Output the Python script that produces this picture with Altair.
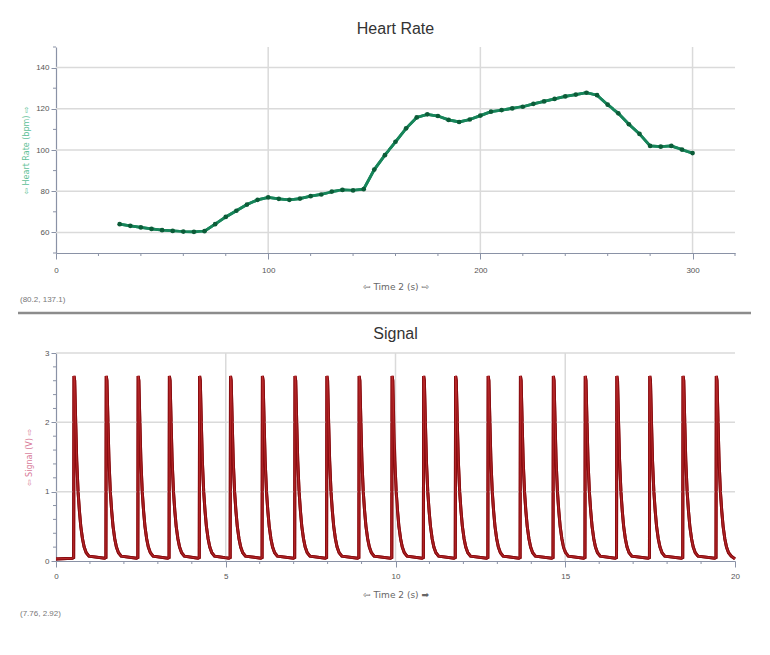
import altair as alt
import pandas as pd

# ---------------- data ----------------
hr_time = [30, 35, 40, 45, 50, 55, 60, 65, 70, 75, 80, 85, 90, 95, 100, 105, 110,
           115, 120, 125, 130, 135, 140, 145, 150, 155, 160, 165, 170, 175, 180,
           185, 190, 195, 200, 205, 210, 215, 220, 225, 230, 235, 240, 245, 250,
           255, 260, 265, 270, 275, 280, 285, 290, 295, 300]
hr_bpm = [64.0, 63.2, 62.4, 61.7, 61.1, 60.7, 60.4, 60.3, 60.6, 64.0, 67.5, 70.5,
          73.5, 75.8, 77.0, 76.3, 75.8, 76.4, 77.6, 78.4, 79.8, 80.6, 80.4, 81.0,
          90.5, 97.5, 104.0, 110.5, 115.8, 117.3, 116.5, 114.6, 113.6, 114.8,
          116.7, 118.6, 119.4, 120.2, 121.0, 122.4, 123.6, 124.8, 126.0, 126.9,
          127.8, 126.6, 122.0, 117.8, 112.5, 107.8, 102.0, 101.6, 102.0, 100.2, 98.5]

# signal: time of each spike and the shape of one spike (offset s, volts)
peak_times = [0.53, 1.48, 2.42, 3.34, 4.23, 5.14, 6.08, 7.04, 7.98, 8.93, 9.90,
              10.83, 11.77, 12.73, 13.68, 14.65, 15.59, 16.52, 17.49, 18.47, 19.45]
pulse_offsets = [-0.05, -0.01, 0.0, 0.02, 0.05, 0.08, 0.12, 0.16, 0.20, 0.25, 0.30, 0.36, 0.44]
pulse_values = [0.04, 0.05, 2.67, 2.60, 2.00, 1.45, 1.00, 0.72, 0.50, 0.32, 0.20, 0.12, 0.07]
signal_start = [0.0, 0.03]
signal_end = [20.0, 0.03]

# axis ticks (labelled majors, unlabelled minors)
hr_x_major = [0, 100, 200, 300]
hr_x_minor = [20, 40, 60, 80, 120, 140, 160, 180, 220, 240, 260, 280, 320]
hr_y_major = [60, 80, 100, 120, 140]
hr_y_minor = [50, 70, 90, 110, 130, 150]
sig_x_major = [0, 5, 10, 15, 20]
sig_x_minor = [1, 2, 3, 4, 6, 7, 8, 9, 11, 12, 13, 14, 16, 17, 18, 19]
sig_y_major = [0, 1, 2, 3]
sig_y_minor = [0.2, 0.4, 0.6, 0.8, 1.2, 1.4, 1.6, 1.8, 2.2, 2.4, 2.6, 2.8]

# major grid positions
hr_grid_y = [60, 80, 100, 120, 140]
hr_grid_x = [100, 200, 300]
sig_grid_y = [1, 2, 3]
sig_grid_x = [5, 10, 15]

hr_readout = "(80.2, 137.1)"
sig_readout = "(7.76, 2.92)"

# ---------------- tables ----------------
hr_df = pd.DataFrame({"t": hr_time, "hr": hr_bpm})
rows = [tuple(signal_start)]
for p in peak_times:
    for o, v in zip(pulse_offsets, pulse_values):
        rows.append((round(p + o, 3), v))
rows.append(tuple(signal_end))
sig_df = pd.DataFrame(rows, columns=["t", "v"])

W = 679
H1 = 206
H2 = 208

axis_col = "#8a92a6"
grid_col = "#dadada"
lab_col = "#555555"
FONT = "Liberation Sans, Arial, sans-serif"


def minor_x(vals, h):
    return alt.Chart(pd.DataFrame({"t": vals})).mark_rule(
        color=axis_col, strokeWidth=1).encode(
        x="t:Q", y=alt.value(h), y2=alt.value(h + 3))


def minor_y(vals, field):
    return alt.Chart(pd.DataFrame({field: vals})).mark_rule(
        color=axis_col, strokeWidth=1).encode(
        y=f"{field}:Q", x=alt.value(-3), x2=alt.value(0))


def grid_x(vals):
    return alt.Chart(pd.DataFrame({"t": vals})).mark_rule(
        color=grid_col, strokeWidth=1.5).encode(x="t:Q")


def grid_y(vals, field):
    return alt.Chart(pd.DataFrame({field: vals})).mark_rule(
        color=grid_col, strokeWidth=1.5).encode(y=f"{field}:Q")


def readout(text, yy):
    return alt.Chart(pd.DataFrame({"s": [text]})).mark_text(
        align="left", baseline="middle", fontSize=8, color="#777777", font=FONT).encode(
        text="s:N", x=alt.value(-36), y=alt.value(yy))


# ---------------- heart rate panel ----------------
hx = alt.X("t:Q", scale=alt.Scale(domain=[0, 320], nice=False, zero=False),
           axis=alt.Axis(values=hr_x_major, grid=False, tickSize=6,
                         labelFlush=False, labelOverlap=False,
                         title="⇦        Time 2 (s)        ⇨",
                         titleColor="#666666", titleFontSize=9, titlePadding=8,
                         labelPadding=7))
hy = alt.Y("hr:Q", scale=alt.Scale(domain=[50, 150], nice=False, zero=False),
           axis=alt.Axis(values=hr_y_major, grid=False, tickSize=5,
                         labelFlush=False, labelOverlap=False,
                         title="⇦      Heart Rate (bpm)      ⇨",
                         titleColor="#5fbf98", titleFontSize=8, titlePadding=5))

hr_base = alt.Chart(hr_df)
hr_line = hr_base.mark_line(color="#17855a", strokeWidth=2.8).encode(x=hx, y=hy)
hr_pts = hr_base.mark_point(filled=True, shape="circle", size=22, color="#0b5c38",
                            opacity=1).encode(x="t:Q", y="hr:Q")
sep = alt.Chart(pd.DataFrame({"a": [0]})).mark_rule(color="#8c8c8c", strokeWidth=2.5).encode(
    x=alt.value(-38), x2=alt.value(W + 16), y=alt.value(H1 + 60))

top = alt.layer(
    hr_line,
    grid_y(hr_grid_y, "hr"), grid_x(hr_grid_x),
    minor_x(hr_x_minor, H1), minor_y(hr_y_minor, "hr"),
    hr_line, hr_pts, readout(hr_readout, H1 + 47), sep,
).properties(
    width=W, height=H1,
    title=alt.TitleParams("Heart Rate", fontSize=16, color="#333333", offset=9,
                          font=FONT, fontWeight="normal"))

# ---------------- signal panel ----------------
sx = alt.X("t:Q", scale=alt.Scale(domain=[0, 20], nice=False, zero=False),
           axis=alt.Axis(values=sig_x_major, grid=False, tickSize=6,
                         labelFlush=False, labelOverlap=False,
                         title="⇦        Time 2 (s)        ➡",
                         titleColor="#666666", titleFontSize=9, titlePadding=10,
                         labelPadding=5))
sy = alt.Y("v:Q", scale=alt.Scale(domain=[0, 3], nice=False, zero=False),
           axis=alt.Axis(values=sig_y_major, grid=False, tickSize=5, format="d",
                         labelFlush=False, labelOverlap=False,
                         title="⇦      Signal (V)      ⇨",
                         titleColor="#d77a98", titleFontSize=8, titlePadding=11))

sig_base = alt.Chart(sig_df)
sig_dark = sig_base.mark_line(color="#8a0c10", strokeWidth=3).encode(x=sx, y=sy)
sig_light = sig_base.mark_line(color="#c83434", strokeWidth=0.8, opacity=0.9).encode(x="t:Q", y="v:Q")

bottom = alt.layer(
    sig_dark,
    grid_y(sig_grid_y, "v"), grid_x(sig_grid_x),
    minor_x(sig_x_minor, H2), minor_y(sig_y_minor, "v"),
    sig_dark, sig_light, readout(sig_readout, H2 + 53),
).properties(
    width=W, height=H2,
    title=alt.TitleParams("Signal", fontSize=16, color="#333333", offset=7,
                          font=FONT, fontWeight="normal"))

chart = alt.vconcat(top, bottom, spacing=11).properties(
    padding={"left": 8, "top": 13, "right": 5, "bottom": 5},
    background="white",
).configure_view(stroke=None).configure_axis(
    domainColor=axis_col, tickColor=axis_col,
    labelColor=lab_col, labelFontSize=8, labelFont=FONT,
    titleFont="DejaVu Sans", titleFontWeight="normal", domainWidth=1.2,
)

chart.save("out.html", embed_options={"renderer": "svg", "actions": False})
